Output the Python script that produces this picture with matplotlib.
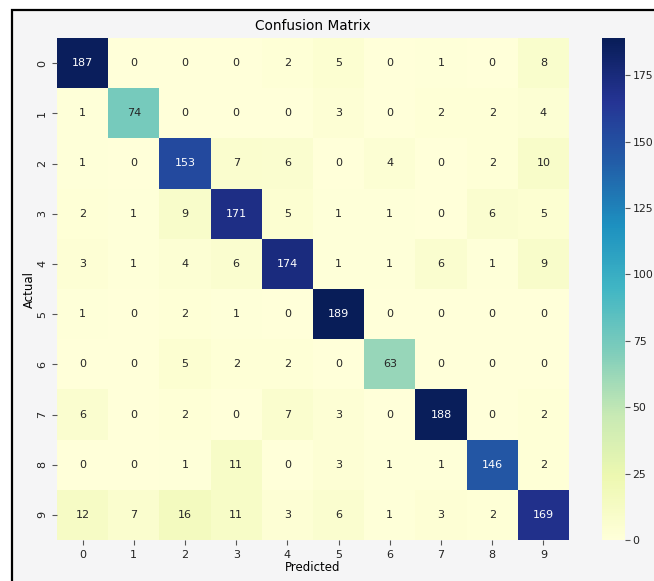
import numpy as np
import matplotlib
matplotlib.use("Agg")
import matplotlib.pyplot as plt
from matplotlib.patches import Rectangle
import seaborn as sns

labels = list(range(10))
row0 = [187, 0, 0, 0, 2, 5, 0, 1, 0, 8]
row1 = [1, 74, 0, 0, 0, 3, 0, 2, 2, 4]
row2 = [1, 0, 153, 7, 6, 0, 4, 0, 2, 10]
row3 = [2, 1, 9, 171, 5, 1, 1, 0, 6, 5]
row4 = [3, 1, 4, 6, 174, 1, 1, 6, 1, 9]
row5 = [1, 0, 2, 1, 0, 189, 0, 0, 0, 0]
row6 = [0, 0, 5, 2, 2, 0, 63, 0, 0, 0]
row7 = [6, 0, 2, 0, 7, 3, 0, 188, 0, 2]
row8 = [0, 0, 1, 11, 0, 3, 1, 1, 146, 2]
row9 = [12, 7, 16, 11, 3, 6, 1, 3, 2, 169]

cm = np.array([row0, row1, row2, row3, row4, row5, row6, row7, row8, row9])

W, H = 654, 581
fig = plt.figure(figsize=(W / 100, H / 100), dpi=100, facecolor="white")

# light panel with a dark frame on the top and left edges
fig.patches.append(Rectangle((12 / W, -0.1), 1.1, (H - 10) / H + 0.1,
                             transform=fig.transFigure, facecolor="#f5f5f6",
                             edgecolor="black", linewidth=1.6, zorder=-1))

ax = fig.add_axes([57 / W, 41 / H, 512 / W, 502 / H])
cax = fig.add_axes([602 / W, 41 / H, 23 / W, 502 / H])

sns.heatmap(cm, annot=True, fmt="d", cmap="YlGnBu", ax=ax, cbar_ax=cax,
            xticklabels=labels, yticklabels=labels,
            annot_kws={"fontsize": 8})

ax.set_title("Confusion Matrix", fontsize=9.8, pad=6)
ax.set_xlabel("Predicted", fontsize=8.5, labelpad=1)
ax.set_ylabel("Actual", fontsize=8.5, labelpad=1)
ax.tick_params(labelsize=8, colors="#555555", labelcolor="#222222")
plt.setp(ax.get_yticklabels(), rotation=90, va="center")
cax.tick_params(labelsize=7.8, colors="#555555", labelcolor="#222222", pad=2)

fig.savefig("out.png", dpi=100, facecolor=fig.get_facecolor())
